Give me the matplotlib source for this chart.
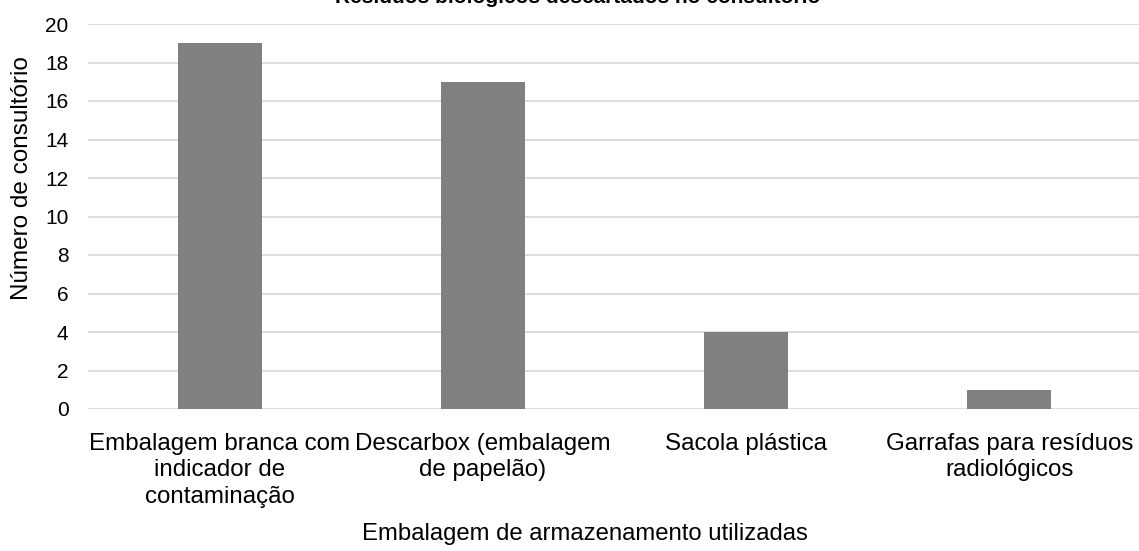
import matplotlib.pyplot as plt

# packaging types and number of offices using each
categorias = [
    'Embalagem branca com\nindicador de\ncontaminação',
    'Descarbox (embalagem\nde papelão)',
    'Sacola plástica',
    'Garrafas para resíduos\nradiológicos',
]
consultorios = [19, 17, 4, 1]
y_ticks = list(range(0, 21, 2))

plt.rcParams['font.family'] = ['Liberation Sans', 'DejaVu Sans']

fig = plt.figure(figsize=(11.39, 5.51), dpi=100)
ax = fig.add_axes([88 / 1139, 142 / 551, 1053 / 1139, 385 / 551])

pos = range(len(categorias))
ax.bar(pos, consultorios, width=0.32, color='#808080', zorder=3)

ax.set_xlim(-0.5, len(categorias) - 0.5)
ax.set_ylim(0, 20)
ax.set_yticks(y_ticks)
ax.set_xticks(list(pos))
ax.set_xticklabels(categorias, fontsize=17.4, linespacing=1.27)
ax.tick_params(axis='y', labelsize=15, length=0, pad=14)
ax.tick_params(axis='x', length=0, pad=17)

ax.grid(axis='y', color='#d9d9d9', linewidth=1.3, zorder=0)
for s in ax.spines.values():
    s.set_visible(False)

ax.set_ylabel('Número de consultório', fontsize=17.5)
ax.yaxis.set_label_coords(-0.052, 0.6)
ax.set_xlabel('Embalagem de armazenamento utilizadas', fontsize=17.2)
ax.xaxis.set_label_coords(0.472, -0.295)

# title sits mostly above the canvas
fig.text(0.507, 1.004, 'Resíduos biológicos descartados no consultório',
         ha='center', va='center', fontsize=15, fontweight='bold')

fig.savefig('out.png', dpi=100)
